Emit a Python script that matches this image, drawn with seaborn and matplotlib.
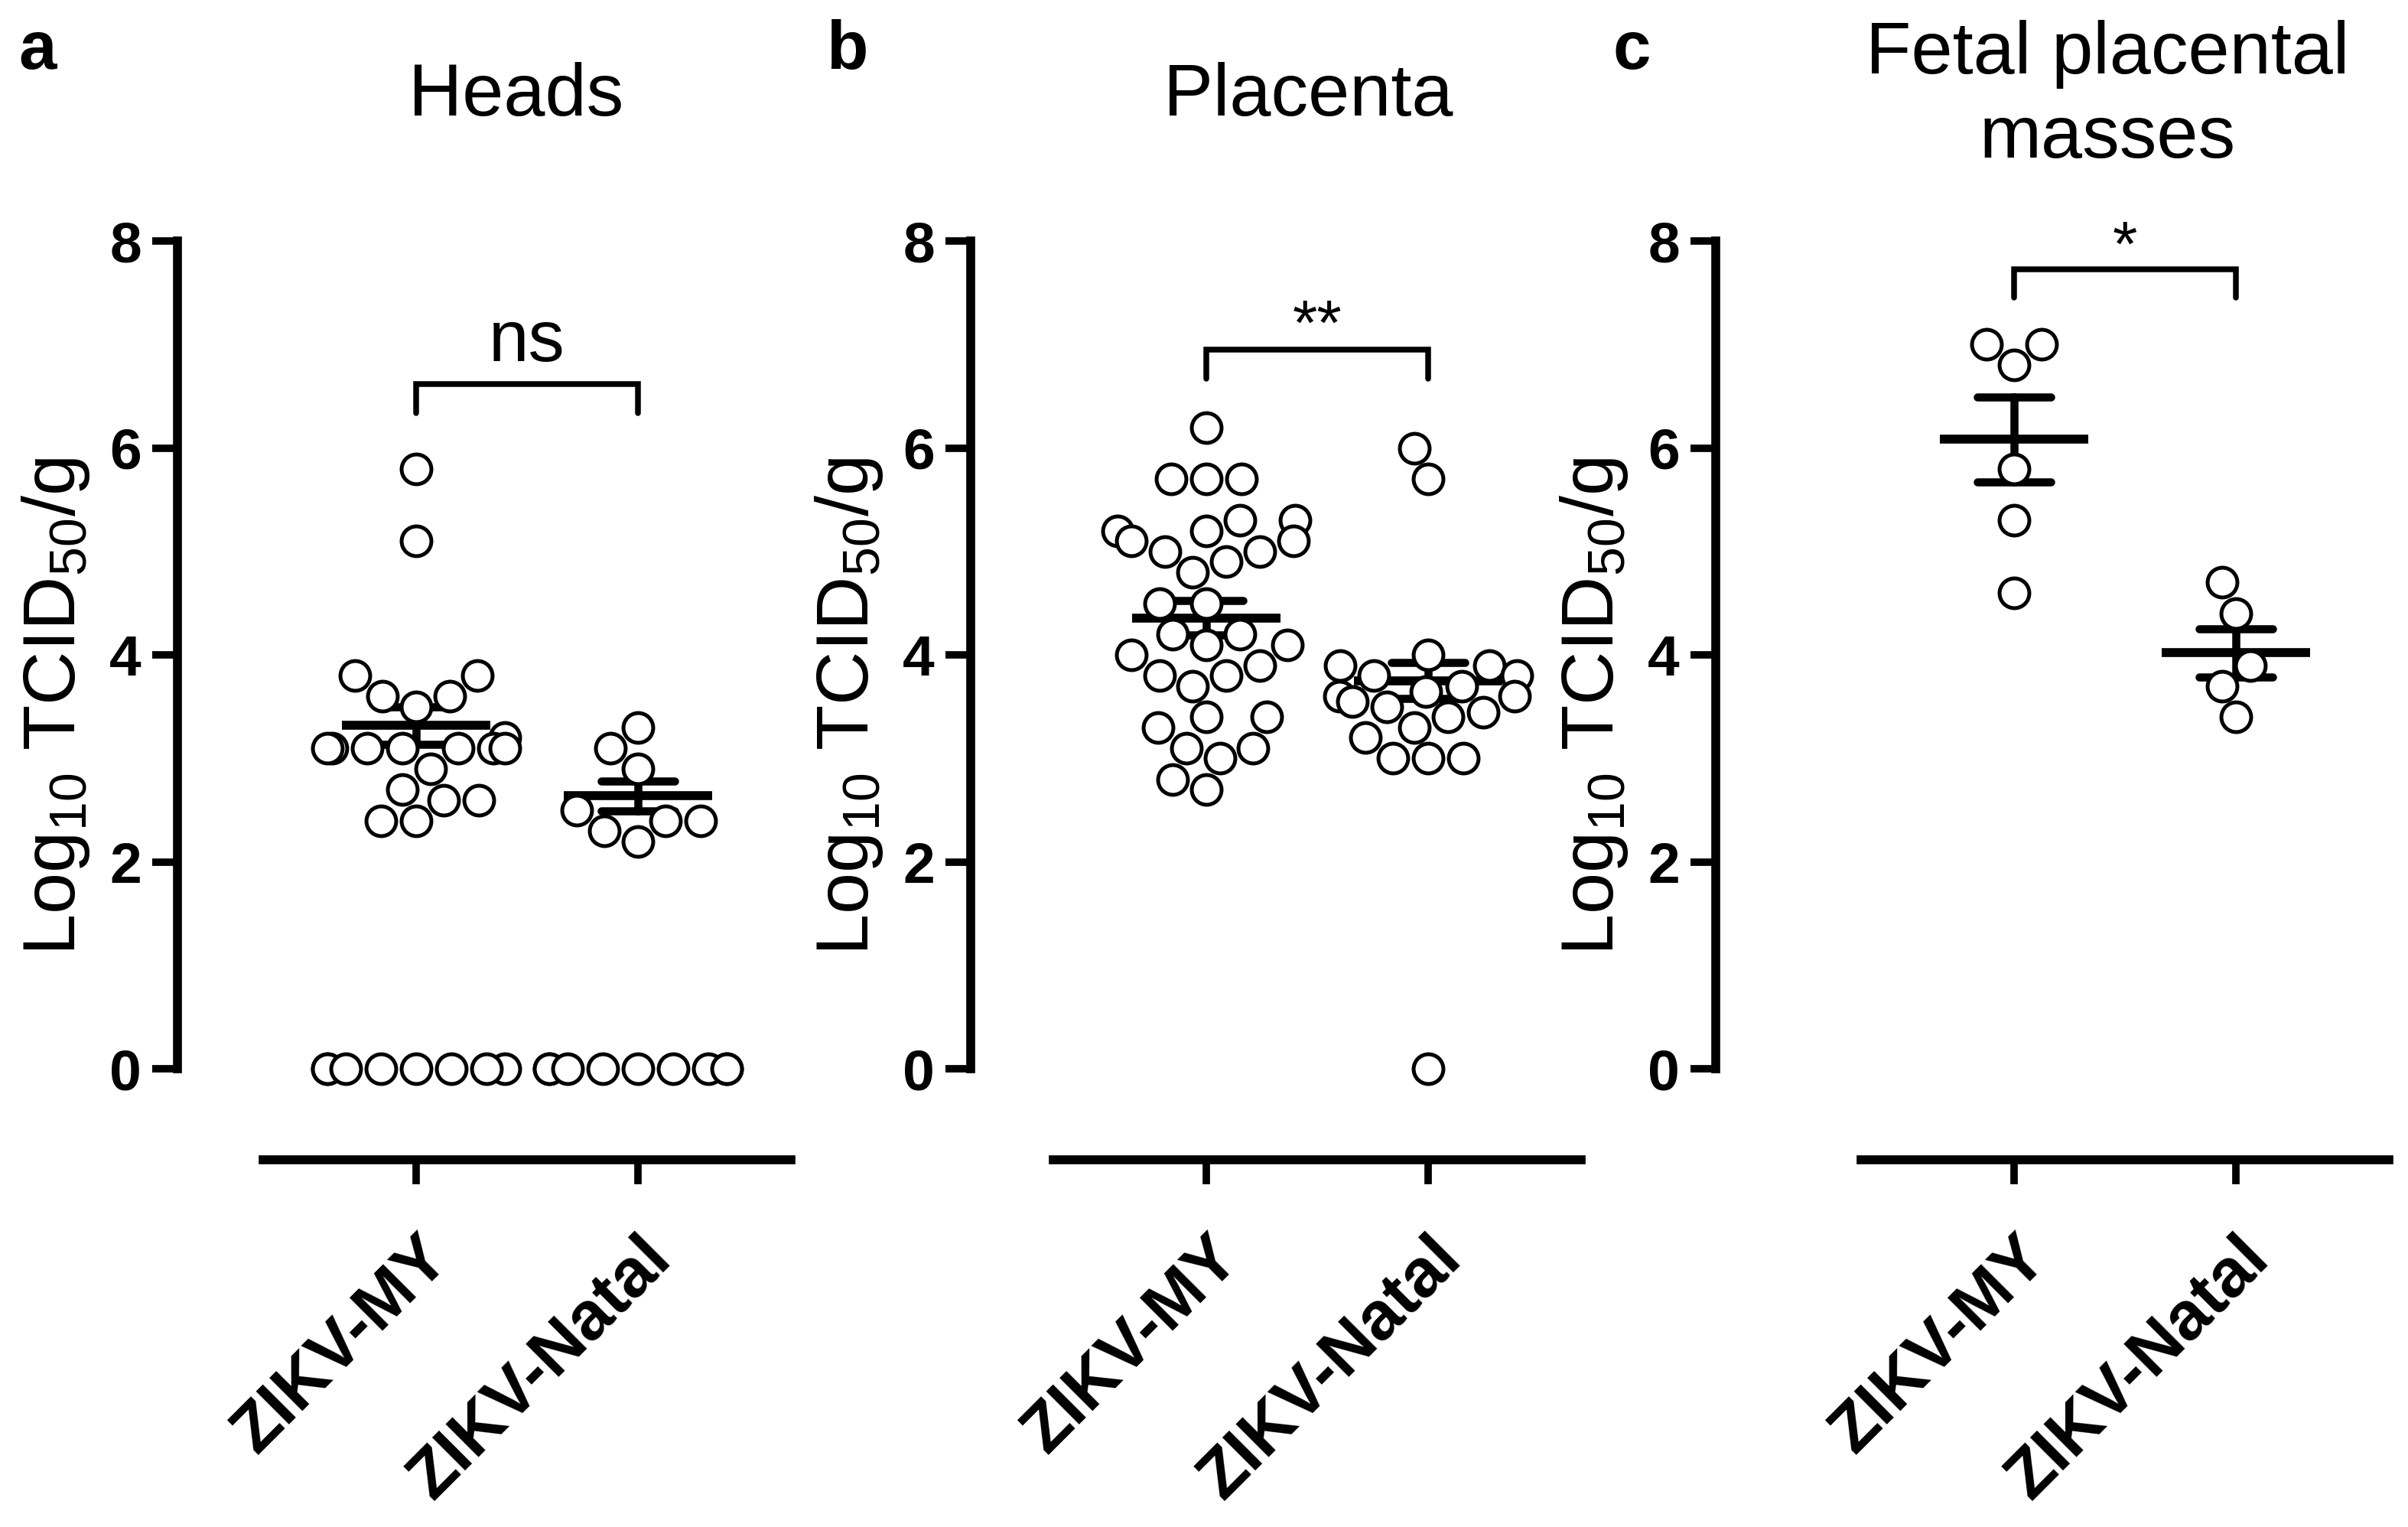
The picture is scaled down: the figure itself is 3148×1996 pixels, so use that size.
import matplotlib
matplotlib.use("Agg")
import matplotlib.pyplot as plt
import matplotlib.transforms as mtransforms
import pandas as pd
import seaborn as sns

# log10 TCID50/g per sample (zeros = below detection)
groups = ["ZIKV-MY", "ZIKV-Natal"]

heads_my = [5.8, 5.1, 3.8, 3.8, 3.6, 3.6, 3.5, 3.2, 3.1, 3.1, 3.1, 3.1, 3.1, 3.1, 3.1,
            2.9, 2.7, 2.6, 2.6, 2.4, 2.4, 0, 0, 0, 0, 0, 0, 0, 0]
heads_natal = [3.3, 3.1, 2.9, 2.5, 2.4, 2.4, 2.3, 2.2, 0, 0, 0, 0, 0, 0, 0, 0, 0]

placenta_my = [6.2, 5.7, 5.7, 5.7, 5.3, 5.3, 5.2, 5.2, 5.1, 5.1, 5.0, 5.0, 4.9, 4.8,
               4.5, 4.5, 4.2, 4.2, 4.1, 4.1, 4.0, 3.9, 3.8, 3.8, 3.7, 3.4, 3.4, 3.3,
               3.1, 3.1, 3.0, 2.8, 2.7]
placenta_natal = [6.0, 5.7, 4.0, 3.9, 3.9, 3.8, 3.8, 3.7, 3.65, 3.6, 3.6, 3.55, 3.5,
                  3.45, 3.4, 3.3, 3.2, 3.0, 3.0, 3.0, 0]

fpm_my = [7.0, 7.0, 6.8, 5.8, 5.3, 4.6]
fpm_natal = [4.7, 4.4, 3.9, 3.7, 3.4]

titles = ["Heads", "Placenta", "Fetal placental\nmasses"]
letters = ["a", "b", "c"]
stars = ["ns", "**", "*"]

sns.set_style("ticks")
plt.rcParams["font.family"] = ["Liberation Sans", "DejaVu Sans"]
plt.rcParams["mathtext.fontset"] = "custom"
plt.rcParams["mathtext.rm"] = "Liberation Sans"
plt.rcParams["mathtext.it"] = "Liberation Sans:italic"
plt.rcParams["mathtext.bf"] = "Liberation Sans:bold"
for key in ["text.color", "axes.labelcolor", "axes.edgecolor",
            "xtick.color", "ytick.color"]:
    plt.rcParams[key] = "black"

W, H, DPI = 3148, 1996, 200
fig = plt.figure(figsize=(W / DPI, H / DPI), dpi=DPI)

# panel geometry: spine x (px), xlim left, title x, letter x (px), bracket y, star y
layout = [
    (232, -1.076, 0.45, 24, 6.62, 6.84),
    (1269, -1.062, 0.46, 1080, 6.95, 7.0),
    (2243, -1.345, 0.42, 2108, 7.73, 7.76),
]
unit_px = 290
ylo, yhi = -0.876, 8.6
data = [(heads_my, heads_natal), (placenta_my, placenta_natal), (fpm_my, fpm_natal)]

for i, ((my, natal), (spx, xl, tx, lx, by, sy)) in enumerate(zip(data, layout)):
    width_px = (1.72 - xl) * unit_px
    ax = fig.add_axes([spx / W, 0.2406, width_px / W, 0.6422])

    df = pd.DataFrame({
        "group": [groups[0]] * len(my) + [groups[1]] * len(natal),
        "titer": my + natal,
    })
    sns.swarmplot(data=df, x="group", y="titer", order=groups, ax=ax,
                  size=14, color="white", edgecolor="black", linewidth=1.8,
                  warn_thresh=1)
    # mean +/- SEM of the detectable samples
    pos = df[df["titer"] > 0]
    sns.pointplot(data=pos, x="group", y="titer", order=groups, ax=ax,
                  errorbar="se", capsize=0.33, color="black", markers="_",
                  markersize=70, markeredgewidth=4.2, linestyle="none",
                  err_kws={"linewidth": 3.8})

    ax.set_xlim(xl, 1.72)
    ax.set_ylim(ylo, yhi)
    ax.set_yticks([0, 2, 4, 6, 8])
    sns.despine(ax=ax)
    for s in ["left", "bottom"]:
        ax.spines[s].set_linewidth(4.2)
    ax.spines["left"].set_bounds(0, 8)
    ax.spines["bottom"].set_bounds(-0.69, 1.69)

    ax.tick_params(axis="y", length=12, width=3.5, labelsize=27, pad=5)
    ax.tick_params(axis="x", length=11.5, width=3.5, labelsize=32, pad=30)
    for lab in ax.get_yticklabels():
        lab.set_fontweight("bold")
    shift = mtransforms.ScaledTranslation(30 / DPI, 0, fig.dpi_scale_trans)
    for lab in ax.get_xticklabels():
        lab.set_fontweight("bold")
        lab.set_rotation(45)
        lab.set_ha("right")
        lab.set_va("center")
        lab.set_rotation_mode("anchor")
        lab.set_transform(lab.get_transform() + shift)

    ax.set_xlabel("")
    ax.set_ylabel(r"Log$_{10}$ TCID$_{50}$/g", fontsize=35)
    ax.yaxis.set_label_coords(-112 / width_px, 0.462)

    ax.text(tx, 9.4, titles[i], ha="center", va="center", fontsize=35,
            linespacing=1.28, clip_on=False)

    # significance bracket
    ax.plot([0, 0, 1, 1], [by - 0.28, by, by, by - 0.28], color="black",
            lw=2.7, clip_on=False, solid_joinstyle="miter")
    fs = 34 if stars[i] == "ns" else 30
    ax.text(0.5, sy, stars[i], ha="center", va="baseline", fontsize=fs,
            clip_on=False)

    fig.text(lx / W, 1 - 90 / H, letters[i], ha="left", va="baseline",
             fontsize=32, fontweight="bold")

fig.savefig("out.png", dpi=DPI)
